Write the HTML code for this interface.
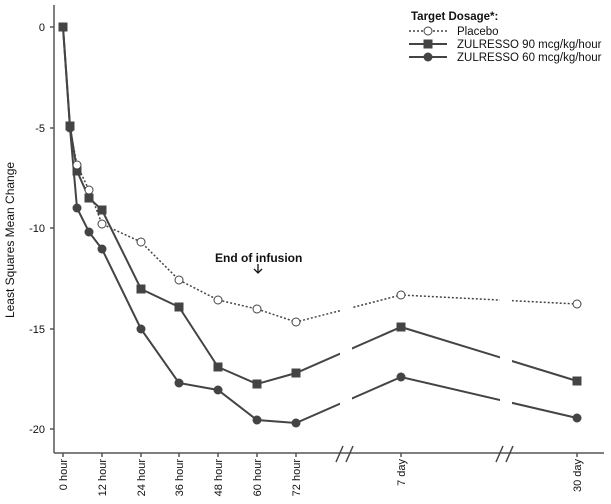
<!DOCTYPE html>
<html><head><style>body{margin:0;background:#fff}svg{display:block}text{font-family:"Liberation Sans",Arial,sans-serif;fill:#111}</style></head>
<body>
<svg width="611" height="504" viewBox="0 0 611 504" xmlns="http://www.w3.org/2000/svg">
<g stroke="#555" stroke-width="1.5" fill="none">
<line x1="54" y1="5" x2="54" y2="453"/>
<line x1="54" y1="453" x2="604" y2="453"/>
<line x1="50" y1="27" x2="54" y2="27"/><line x1="50" y1="128" x2="54" y2="128"/><line x1="50" y1="228" x2="54" y2="228"/><line x1="50" y1="329" x2="54" y2="329"/><line x1="50" y1="429" x2="54" y2="429"/>
<g>
<line x1="63" y1="453" x2="63" y2="457"/><line x1="102" y1="453" x2="102" y2="457"/><line x1="141" y1="453" x2="141" y2="457"/><line x1="179" y1="453" x2="179" y2="457"/><line x1="218" y1="453" x2="218" y2="457"/><line x1="257" y1="453" x2="257" y2="457"/><line x1="296" y1="453" x2="296" y2="457"/><line x1="401" y1="453" x2="401" y2="457"/><line x1="577" y1="453" x2="577" y2="457"/>
</g>
</g>
<g font-size="11" text-anchor="end">
<text x="45" y="31">0</text><text x="45" y="132">-5</text><text x="45" y="232">-10</text><text x="45" y="333">-15</text><text x="45" y="433">-20</text>
</g>
<text transform="translate(14,240) rotate(-90)" font-size="12" text-anchor="middle">Least Squares Mean Change</text>
<g font-size="11" text-anchor="end">
<text transform="translate(67,459) rotate(-90)">0 hour</text>
<text transform="translate(106,459) rotate(-90)">12 hour</text>
<text transform="translate(145,459) rotate(-90)">24 hour</text>
<text transform="translate(183,459) rotate(-90)">36 hour</text>
<text transform="translate(222,459) rotate(-90)">48 hour</text>
<text transform="translate(261,459) rotate(-90)">60 hour</text>
<text transform="translate(300,459) rotate(-90)">72 hour</text>
<text transform="translate(405,459) rotate(-90)">7 day</text>
<text transform="translate(581,459) rotate(-90)">30 day</text>
</g>
<!-- series -->
<polyline fill="none" stroke="#444" stroke-width="1.5" stroke-dasharray="2,2" points="63,27 70,128 77,165 89,190 102,224 141,242 179,280 218,300 257,309 296,322 401,295 577,304"/>
<polyline fill="none" stroke="#444" stroke-width="2" points="63,27 70,126 77,171 89,198 102,210 141,289 179,307 218,367 257,384 296,373 401,327 577,381"/>
<polyline fill="none" stroke="#444" stroke-width="2" points="63,27 70,128 77,208 89,232 102,249 141,329 179,383 218,390 257,420 296,423 401,377 577,418"/>
<!-- gaps -->
<rect x="340" y="260" width="12" height="185" fill="#fff"/>
<rect x="500" y="260" width="12" height="185" fill="#fff"/>
<g fill="#444">
<rect x="58.5" y="22.5" width="9" height="9"/><rect x="65.5" y="121.5" width="9" height="9"/><rect x="72.5" y="166.5" width="9" height="9"/><rect x="84.5" y="193.5" width="9" height="9"/><rect x="97.5" y="205.5" width="9" height="9"/><rect x="136.5" y="284.5" width="9" height="9"/><rect x="174.5" y="302.5" width="9" height="9"/><rect x="213.5" y="362.5" width="9" height="9"/><rect x="252.5" y="379.5" width="9" height="9"/><rect x="291.5" y="368.5" width="9" height="9"/><rect x="396.5" y="322.5" width="9" height="9"/><rect x="572.5" y="376.5" width="9" height="9"/>
<circle cx="70" cy="128" r="4.5"/><circle cx="77" cy="208" r="4.5"/><circle cx="89" cy="232" r="4.5"/><circle cx="102" cy="249" r="4.5"/><circle cx="141" cy="329" r="4.5"/><circle cx="179" cy="383" r="4.5"/><circle cx="218" cy="390" r="4.5"/><circle cx="257" cy="420" r="4.5"/><circle cx="296" cy="423" r="4.5"/><circle cx="401" cy="377" r="4.5"/><circle cx="577" cy="418" r="4.5"/>
</g>
<g fill="#fff" stroke="#444" stroke-width="1">
<circle cx="77" cy="165" r="4"/><circle cx="89" cy="190" r="4"/><circle cx="102" cy="224" r="4"/><circle cx="141" cy="242" r="4"/><circle cx="179" cy="280" r="4"/><circle cx="218" cy="300" r="4"/><circle cx="257" cy="309" r="4"/><circle cx="296" cy="322" r="4"/><circle cx="401" cy="295" r="4"/><circle cx="577" cy="304" r="4"/>
</g>
<!-- break marks -->
<g stroke="#444" stroke-width="1.5">
<line x1="336" y1="462" x2="343" y2="446"/><line x1="346" y1="462" x2="353" y2="446"/>
<line x1="496" y1="462" x2="503" y2="446"/><line x1="506" y1="462" x2="513" y2="446"/>
</g>
<!-- annotation -->
<text x="215" y="262" font-size="12" font-weight="bold">End of infusion</text>
<g stroke="#111" stroke-width="1.3" fill="none"><line x1="258" y1="264" x2="258" y2="273"/><polyline points="254,269 258,273 262,269"/></g>
<!-- legend -->
<text x="411" y="20" font-size="11.5" font-weight="bold">Target Dosage*:</text>
<line x1="409" y1="31" x2="447" y2="31" stroke="#444" stroke-width="1.5" stroke-dasharray="2,2"/>
<circle cx="428" cy="31" r="4" fill="#fff" stroke="#444"/>
<text x="457" y="35" font-size="11.5">Placebo</text>
<line x1="409" y1="44" x2="447" y2="44" stroke="#444" stroke-width="2"/>
<rect x="423.5" y="39.5" width="9" height="9" fill="#444"/>
<text x="457" y="48" font-size="11.5">ZULRESSO 90 mcg/kg/hour</text>
<line x1="409" y1="57" x2="447" y2="57" stroke="#444" stroke-width="2"/>
<circle cx="428" cy="57" r="4.5" fill="#444"/>
<text x="457" y="61" font-size="11.5">ZULRESSO 60 mcg/kg/hour</text>
</svg>
</body></html>
